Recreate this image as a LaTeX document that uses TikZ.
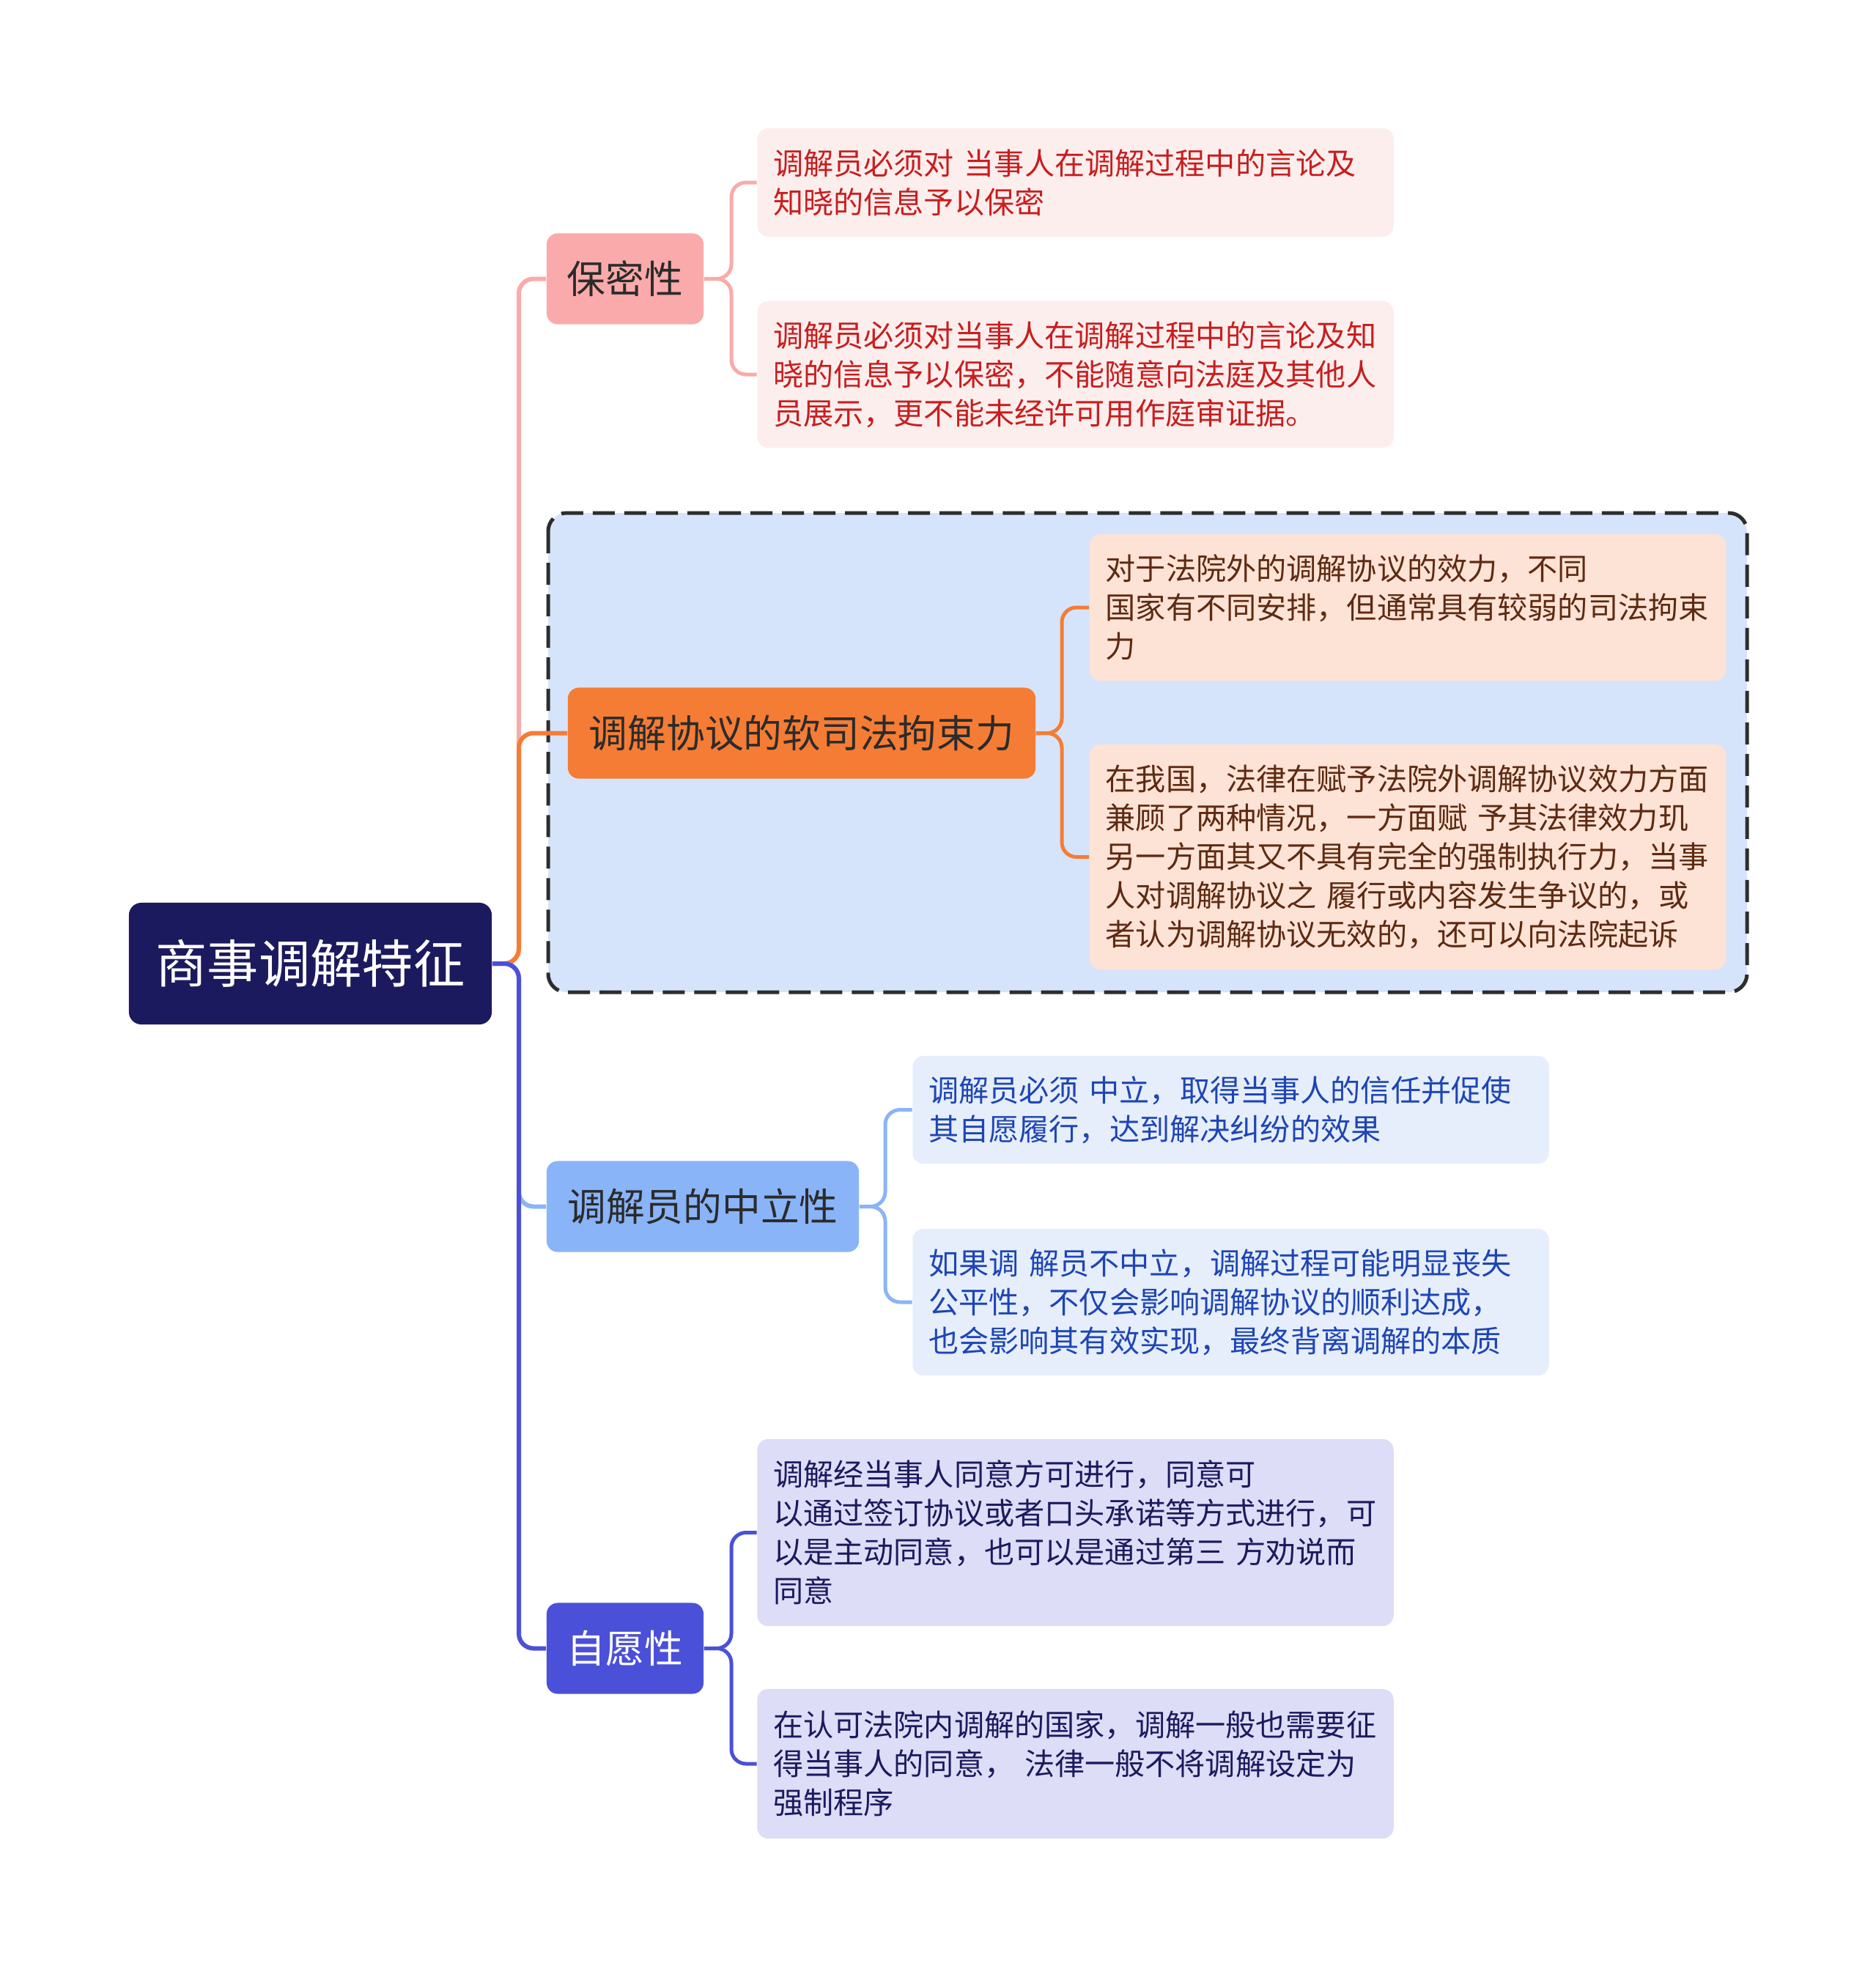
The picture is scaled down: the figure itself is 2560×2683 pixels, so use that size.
\documentclass[tikz,border=0pt]{standalone}
\usepackage{fontspec}
\setmainfont{Noto Sans CJK SC}

\definecolor{rootfill}{HTML}{1C1A5E}
\definecolor{pinkfill}{HTML}{FAAAAA}
\definecolor{pinkleaf}{HTML}{FDEEEE}
\definecolor{pinktext}{HTML}{C81E1E}
\definecolor{orangefill}{HTML}{F57C35}
\definecolor{orangeleaf}{HTML}{FDE3D5}
\definecolor{orangetext}{HTML}{5E2A12}
\definecolor{groupfill}{HTML}{D6E4FB}
\definecolor{groupline}{HTML}{2D2D2D}
\definecolor{bluefill}{HTML}{8AB4F8}
\definecolor{blueleaf}{HTML}{E6EEFC}
\definecolor{bluetext}{HTML}{1E45B4}
\definecolor{indigofill}{HTML}{4B50D8}
\definecolor{indigoleaf}{HTML}{DDDDF7}
\definecolor{branchtext}{HTML}{2B2B2B}

\tikzset{
  rootbox/.style={rectangle, rounded corners=0.17cm, fill=rootfill, text=white,
    minimum width=4.95cm, minimum height=1.66cm, inner sep=0pt,
    font=\fontsize{20}{24}\selectfont},
  branchbox/.style={rectangle, rounded corners=0.15cm, minimum height=1.24cm,
    inner sep=0pt, font=\fontsize{15}{18}\selectfont},
  leafbox/.style={rectangle, rounded corners=0.15cm, text width=8.24cm,
    inner xsep=0.22cm, inner ysep=0pt, align=left,
    font=\fontsize{11.7}{15.1}\selectfont},
  link/.style={line width=0.06cm, rounded corners=0.2cm},
  twig/.style={line width=0.05cm, rounded corners=0.2cm},
}

\begin{document}
\begin{tikzpicture}[x=0.01cm, y=-0.01cm]
  \useasboundingbox (0,0) rectangle (2560,2683);

  % Dashed group behind the second branch
  \draw [groupline, fill=groupfill, line width=0.05cm, dash pattern=on 0.3cm off 0.13cm,
    rounded corners=0.25cm] (748,700) rectangle (2384,1354);

  % Root and main branches
  \node [rootbox] (root) at (423.5,1315) {商事调解特征};
  \node [branchbox, fill=pinkfill, text=branchtext, minimum width=2.14cm] (secret) at (853,380.5) {保密性};
  \node [branchbox, fill=orangefill, text=branchtext, minimum width=6.38cm] (binding) at (1094,1000.5) {调解协议的软司法拘束力};
  \node [branchbox, fill=bluefill, text=branchtext, minimum width=4.26cm] (neutral) at (959,1646.5) {调解员的中立性};
  \node [branchbox, fill=indigofill, text=white, minimum width=2.14cm] (willing) at (853,2249.5) {自愿性};

  % Leaves
  \node [leafbox, fill=pinkleaf, text=pinktext, minimum height=1.48cm] (secretA) at (1467.5,249)
    {调解员必须对 当事人在调解过程中的言论及\\知晓的信息予以保密};
  \node [leafbox, fill=pinkleaf, text=pinktext, minimum height=2cm] (secretB) at (1467.5,511)
    {调解员必须对当事人在调解过程中的言论及知\\晓的信息予以保密，不能随意向法庭及其他人\\员展示，更不能未经许可用作庭审证据。};
  \node [leafbox, fill=orangeleaf, text=orangetext, minimum height=2cm] (bindingA) at (1921,829)
    {对于法院外的调解协议的效力，不同\\国家有不同安排，但通常具有较弱的司法拘束\\力};
  \node [leafbox, fill=orangeleaf, text=orangetext, minimum height=3.07cm] (bindingB) at (1921,1169.5)
    {在我国，法律在赋予法院外调解协议效力方面\\兼顾了两种情况，一方面赋 予其法律效力玑\\另一方面其又不具有完全的强制执行力，当事\\人对调解协议之 履行或内容发生争议的，或\\者认为调解协议无效的，还可以向法院起诉};
  \node [leafbox, fill=blueleaf, text=bluetext, minimum height=1.47cm] (neutralA) at (1679.5,1514.5)
    {调解员必须 中立，取得当事人的信任并促使\\其自愿履行，达到解决纠纷的效果};
  \node [leafbox, fill=blueleaf, text=bluetext, minimum height=2cm] (neutralB) at (1679.5,1777)
    {如果调 解员不中立，调解过程可能明显丧失\\公平性，不仅会影响调解协议的顺利达成，\\也会影响其有效实现，最终背离调解的本质};
  \node [leafbox, fill=indigoleaf, text=rootfill, minimum height=2.55cm] (willingA) at (1467.5,2091.5)
    {调解经当事人同意方可进行，同意可\\以通过签订协议或者口头承诺等方式进行，可\\以是主动同意，也可以是通过第三 方劝说而\\同意};
  \node [leafbox, fill=indigoleaf, text=rootfill, minimum height=2.04cm] (willingB) at (1467.5,2407)
    {在认可法院内调解的国家，调解一般也需要征\\得当事人的同意， 法律一般不将调解设定为\\强制程序};

  % Forks
  \coordinate (trunk) at (708,1315);
  \coordinate (secretfork) at (998,380.5);
  \coordinate (bindingfork) at (1449,1000.5);
  \coordinate (neutralfork) at (1208,1646.5);
  \coordinate (willingfork) at (998,2249.5);

  % Trunk links from the root
  \draw [link, pinkfill] (root.east) -- (trunk) |- (secret.west);
  \draw [link, orangefill] (root.east) -- (trunk) |- (binding.west);
  \draw [link, bluefill] (root.east) -- (trunk) |- (neutral.west);
  \draw [link, indigofill] (root.east) -- (trunk) |- (willing.west);

  % Links to the leaves
  \draw [twig, pinkfill] (secret.east) -- (secretfork) |- (secretA.west);
  \draw [twig, pinkfill] (secret.east) -- (secretfork) |- (secretB.west);
  \draw [twig, orangefill] (binding.east) -- (bindingfork) |- (bindingA.west);
  \draw [twig, orangefill] (binding.east) -- (bindingfork) |- (bindingB.west);
  \draw [twig, bluefill] (neutral.east) -- (neutralfork) |- (neutralA.west);
  \draw [twig, bluefill] (neutral.east) -- (neutralfork) |- (neutralB.west);
  \draw [twig, indigofill] (willing.east) -- (willingfork) |- (willingA.west);
  \draw [twig, indigofill] (willing.east) -- (willingfork) |- (willingB.west);
\end{tikzpicture}
\end{document}
